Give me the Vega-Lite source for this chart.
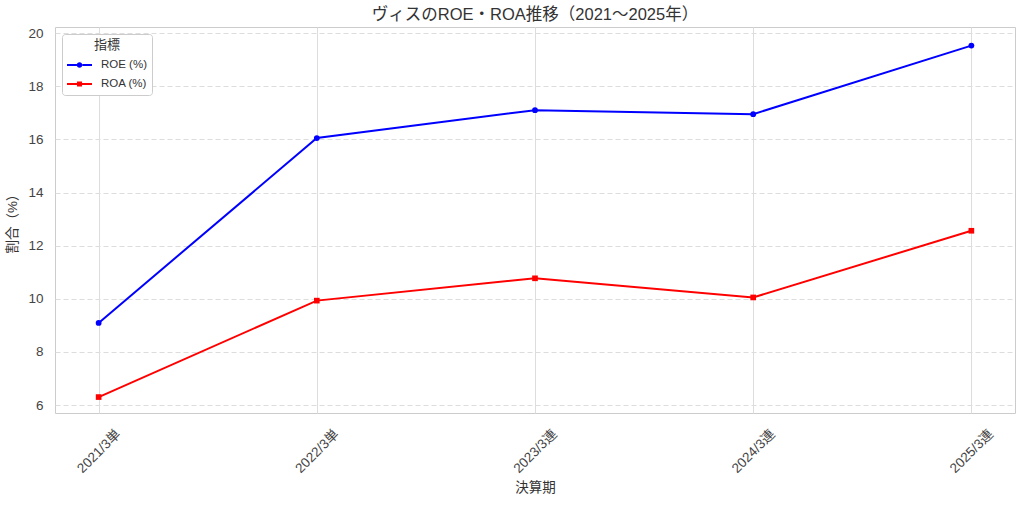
{
  "$schema": "https://vega.github.io/schema/vega-lite/v6.json",
  "width": 960,
  "height": 386,
  "autosize": {"type": "none"},
  "padding": {"left": 55, "top": 27, "right": 9, "bottom": 92},
  "background": "white",
  "config": {
    "font": "Liberation Sans, Noto Sans CJK JP",
    "view": {"stroke": "#cccccc", "strokeWidth": 1},
    "axis": {"labelFont": "Liberation Sans, Noto Sans CJK JP", "titleFont": "Liberation Sans, Noto Sans CJK JP", "labelColor": "#444444", "titleColor": "#333333", "labelFontSize": 13.5, "titleFontSize": 13.5, "titleFontWeight": "normal", "domain": false, "ticks": false, "gridColor": "#dddddd", "gridWidth": 1},
    "legend": {"labelFont": "Liberation Sans, Noto Sans CJK JP", "titleFont": "Liberation Sans, Noto Sans CJK JP"}
  },
  "title": {"text": "ヴィスのROE・ROA推移（2021～2025年）", "fontSize": 16.5, "fontWeight": "normal", "color": "#333333", "offset": 3, "font": "Liberation Sans, Noto Sans CJK JP"},
  "resolve": {"legend": {"color": "independent", "shape": "independent"}},
  "data": {"values": [
    {"period": "2021/3単", "series": "ROE (%)", "value": 9.09},
    {"period": "2022/3単", "series": "ROE (%)", "value": 16.05},
    {"period": "2023/3連", "series": "ROE (%)", "value": 17.1},
    {"period": "2024/3連", "series": "ROE (%)", "value": 16.95},
    {"period": "2025/3連", "series": "ROE (%)", "value": 19.53},
    {"period": "2021/3単", "series": "ROA (%)", "value": 6.3},
    {"period": "2022/3単", "series": "ROA (%)", "value": 9.93},
    {"period": "2023/3連", "series": "ROA (%)", "value": 10.77},
    {"period": "2024/3連", "series": "ROA (%)", "value": 10.05},
    {"period": "2025/3連", "series": "ROA (%)", "value": 12.56}
  ]},
  "encoding": {
    "x": {"field": "period", "type": "ordinal", "sort": null, "scale": {"type": "point", "padding": 0.2},
      "axis": {"title": "決算期", "labelAngle": 315, "labelAlign": "center", "labelBaseline": "middle", "labelPadding": 38, "titlePadding": 6, "grid": true, "gridDash": []}},
    "y": {"field": "value", "type": "quantitative", "scale": {"domain": [5.7, 20.23], "nice": false, "zero": false},
      "axis": {"title": "割合（%）", "titleColor": "#333333", "values": [6, 8, 10, 12, 14, 16, 18, 20], "grid": true, "gridDash": [5, 3], "labelPadding": 12, "titlePadding": 8}}
  },
  "layer": [
    {"mark": {"type": "line", "strokeWidth": 2},
      "encoding": {"color": {"field": "series", "type": "nominal", "scale": {"domain": ["ROE (%)", "ROA (%)"], "range": ["#0000ff", "#ff0000"]}, "legend": null}}},
    {"transform": [{"filter": "datum.series === 'ROE (%)'"}], "mark": {"type": "point", "shape": "circle", "filled": true, "opacity": 1, "size": 34},
      "encoding": {"color": {"field": "series", "type": "nominal", "legend": null}}},
    {"transform": [{"filter": "datum.series === 'ROA (%)'"}], "mark": {"type": "point", "shape": "square", "filled": true, "opacity": 1, "size": 32},
      "encoding": {"color": {"field": "series", "type": "nominal", "legend": null}}},
    {"mark": {"type": "point", "filled": true, "opacity": 0},
      "encoding": {
        "color": {"field": "series", "type": "nominal",
          "legend": {"title": "指標", "orient": "top-left", "offset": 7, "symbolOpacity": 1, "symbolSize": 196, "symbolStrokeWidth": 0, "labelFontSize": 11.5, "titleFontSize": 13, "titleFontWeight": "normal", "titleColor": "#333333", "labelColor": "#333333", "titleAnchor": "middle", "titleAlign": "center", "strokeColor": "#cccccc", "cornerRadius": 3, "fillColor": "white", "padding": 5, "rowPadding": 6, "labelOffset": 20, "titlePadding": 6}},
        "shape": {"field": "series", "type": "nominal", "scale": {"domain": ["ROE (%)", "ROA (%)"], "range": [
          "M-1,-0.14H0.4V0.14H-1Z M1.2,-0.14H2.57V0.14H1.2Z M1.19,0A0.4,0.4 0 1,1 0.39,0A0.4,0.4 0 1,1 1.19,0Z",
          "M-1,-0.14H0.45V0.14H-1Z M1.15,-0.14H2.57V0.14H1.15Z M0.43,-0.36H1.15V0.36H0.43Z"]},
          "legend": {"title": "指標", "orient": "top-left", "offset": 7, "symbolOpacity": 1, "symbolSize": 196, "symbolStrokeWidth": 0, "labelFontSize": 11.5, "titleFontSize": 13, "titleFontWeight": "normal", "titleColor": "#333333", "labelColor": "#333333", "titleAnchor": "middle", "titleAlign": "center", "strokeColor": "#cccccc", "cornerRadius": 3, "fillColor": "white", "padding": 5, "rowPadding": 6, "labelOffset": 20, "titlePadding": 6}}
      }
    }
  ]
}
